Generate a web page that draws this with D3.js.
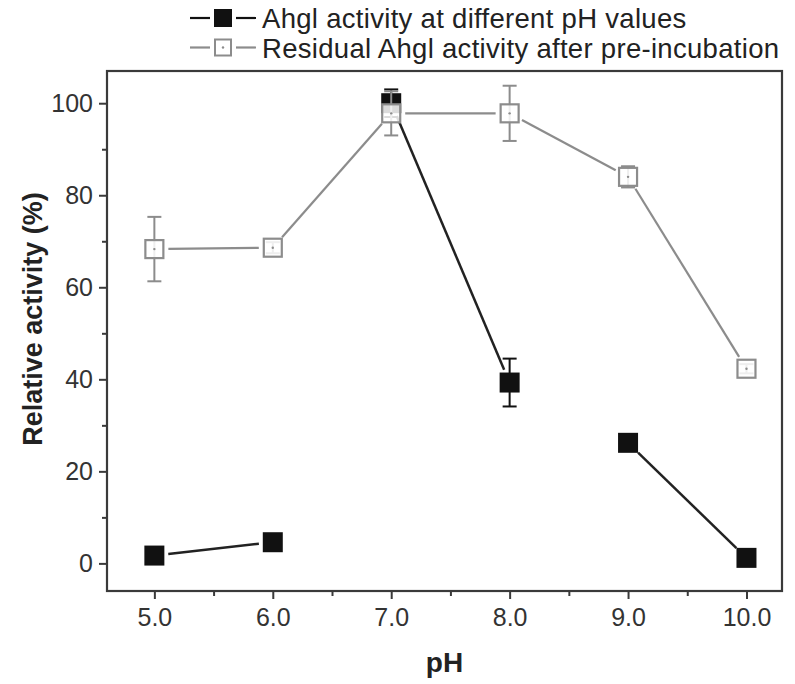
<!DOCTYPE html>
<html>
<head>
<meta charset="UTF-8">
<title>Ahgl pH</title>
<script src="https://cdn.jsdelivr.net/npm/d3@7/dist/d3.min.js"></script>
<style>
  body { margin: 0; background: #fff; }
  svg text { font-family: "Liberation Sans", Arial, sans-serif; }
</style>
</head>
<body>
<svg id="chart" width="795" height="684"></svg>
<script>
// data
var phValues = [5, 6, 7, 8, 9, 10];
var activity = [1.7, 4.6, 100, 39.3, 26.2, 1.2];
var activityErr = [0, 0, 3, 5.2, 0, 0];
var residual = [68.3, 68.6, 97.8, 97.8, 84.0, 42.3];
var residualErr = [7.0, 1.2, 4.8, 6.0, 2.3, 1.0];
// the black curve is only joined in pairs
var activityLinks = [[0, 1], [2, 3], [4, 5]];
var xTicks = [5, 6, 7, 8, 9, 10];
var xMinor = [5.5, 6.5, 7.5, 8.5, 9.5];
var yTicks = [0, 20, 40, 60, 80, 100];
var yMinor = [10, 30, 50, 70, 90];
var legendLabels = ["Ahgl activity at different pH values", "Residual Ahgl activity after pre-incubation"];

var svg = d3.select("#chart");
// plot box (window.top is reserved, so prefixed names)
var pLeft = 107, pRight = 782, pTop = 71, pBottom = 591;
var black = "#111", grey = "#8c8c8c", frame = "#3a3a3a";

var x = d3.scaleLinear().domain([4.6, 10.3]).range([pLeft, pRight]);
var y = d3.scaleLinear().domain([-6, 107]).range([pBottom, pTop]);

// axes
var gx = svg.append("g").attr("transform", "translate(0," + pBottom + ")")
  .call(d3.axisBottom(x).tickValues(xTicks).tickSize(8).tickPadding(9).tickFormat(d3.format(".1f")));
var gxm = svg.append("g").attr("transform", "translate(0," + pBottom + ")")
  .call(d3.axisBottom(x).tickValues(xMinor).tickSize(5).tickFormat(""));
var gy = svg.append("g").attr("transform", "translate(" + pLeft + ",0)")
  .call(d3.axisLeft(y).tickValues(yTicks).tickSize(8).tickPadding(6).tickFormat(d3.format("d")));
var gym = svg.append("g").attr("transform", "translate(" + pLeft + ",0)")
  .call(d3.axisLeft(y).tickValues(yMinor).tickSize(5).tickFormat(""));

[gx, gxm, gy, gym].forEach(function(g) {
  g.select(".domain").remove();
  g.selectAll("line").attr("stroke", frame).attr("stroke-width", 2);
  g.selectAll("text").attr("fill", "#333").style("font-size", "25px");
});

svg.append("rect")
  .attr("x", pLeft).attr("y", pTop)
  .attr("width", pRight - pLeft).attr("height", pBottom - pTop)
  .attr("fill", "none").attr("stroke", frame).attr("stroke-width", 2.2);

// axis titles
svg.append("text")
  .attr("x", (pLeft + pRight) / 2).attr("y", 672)
  .attr("text-anchor", "middle")
  .style("font-size", "28px").style("font-weight", "bold").attr("fill", "#222")
  .text("pH");
svg.append("text")
  .attr("transform", "translate(42," + ((pTop + pBottom) / 2 - 12) + ") rotate(-90)")
  .attr("text-anchor", "middle")
  .style("font-size", "27px").style("font-weight", "bold").attr("fill", "#222")
  .text("Relative activity (%)");

// line pieces trimmed so they stop short of the symbols
function trimmed(i, j, vals, gap) {
  var x1 = x(phValues[i]), y1 = y(vals[i]), x2 = x(phValues[j]), y2 = y(vals[j]);
  var dx = x2 - x1, dy = y2 - y1, len = Math.sqrt(dx * dx + dy * dy);
  var ux = dx / len, uy = dy / len;
  return { x1: x1 + ux * gap, y1: y1 + uy * gap, x2: x2 - ux * gap, y2: y2 - uy * gap };
}

function errorBars(vals, errs, color) {
  var g = svg.append("g");
  phValues.forEach(function(p, i) {
    if (!errs[i]) return;
    var cx = x(p), lo = y(vals[i] - errs[i]), hi = y(vals[i] + errs[i]);
    g.append("line").attr("x1", cx).attr("x2", cx).attr("y1", lo).attr("y2", hi)
      .attr("stroke", color).attr("stroke-width", 2);
    [lo, hi].forEach(function(yy) {
      g.append("line").attr("x1", cx - 7).attr("x2", cx + 7).attr("y1", yy).attr("y2", yy)
        .attr("stroke", color).attr("stroke-width", 2);
    });
  });
}

// black series
svg.append("g").selectAll("line").data(activityLinks).enter().append("line")
  .each(function(d) {
    var s = trimmed(d[0], d[1], activity, 14);
    d3.select(this).attr("x1", s.x1).attr("y1", s.y1).attr("x2", s.x2).attr("y2", s.y2);
  })
  .attr("stroke", "#222").attr("stroke-width", 2.5);
errorBars(activity, activityErr, black);
svg.append("g").selectAll("rect").data(phValues).enter().append("rect")
  .attr("x", function(d) { return x(d) - 10; })
  .attr("y", function(d, i) { return y(activity[i]) - 10; })
  .attr("width", 20).attr("height", 20)
  .attr("fill", black);

// grey series
var greyLinks = d3.pairs(d3.range(phValues.length));
svg.append("g").selectAll("line").data(greyLinks).enter().append("line")
  .each(function(d) {
    var s = trimmed(d[0], d[1], residual, 14);
    d3.select(this).attr("x1", s.x1).attr("y1", s.y1).attr("x2", s.x2).attr("y2", s.y2);
  })
  .attr("stroke", grey).attr("stroke-width", 2.2);
errorBars(residual, residualErr, grey);
var opens = svg.append("g").selectAll("g").data(phValues).enter().append("g")
  .attr("transform", function(d, i) { return "translate(" + x(d) + "," + y(residual[i]) + ")"; });
opens.append("rect")
  .attr("x", -9).attr("y", -9).attr("width", 18).attr("height", 18)
  .attr("fill", "#fff").attr("fill-opacity", 0.85)
  .attr("stroke", grey).attr("stroke-width", 2.2);
opens.append("circle").attr("r", 1.2).attr("fill", grey);

// legend
var legend = svg.append("g");
legendLabels.forEach(function(label, i) {
  var ly = 18 + i * 29.5;
  var col = i === 0 ? black : grey;
  var row = legend.append("g");
  row.append("line").attr("x1", 190).attr("x2", 210).attr("y1", ly).attr("y2", ly)
    .attr("stroke", col).attr("stroke-width", 2.2);
  row.append("line").attr("x1", 236).attr("x2", 256).attr("y1", ly).attr("y2", ly)
    .attr("stroke", col).attr("stroke-width", 2.2);
  if (i === 0) {
    row.append("rect").attr("x", 214).attr("y", ly - 9).attr("width", 18).attr("height", 18).attr("fill", black);
  } else {
    row.append("rect").attr("x", 215).attr("y", ly - 8).attr("width", 16).attr("height", 16)
      .attr("fill", "#fff").attr("stroke", grey).attr("stroke-width", 2);
    row.append("circle").attr("cx", 223).attr("cy", ly).attr("r", 1.2).attr("fill", grey);
  }
  row.append("text").attr("x", 262).attr("y", ly + 10)
    .style("font-size", "27.5px").style("letter-spacing", "0.3px").attr("fill", "#222")
    .text(label);
});
</script>
</body>
</html>
